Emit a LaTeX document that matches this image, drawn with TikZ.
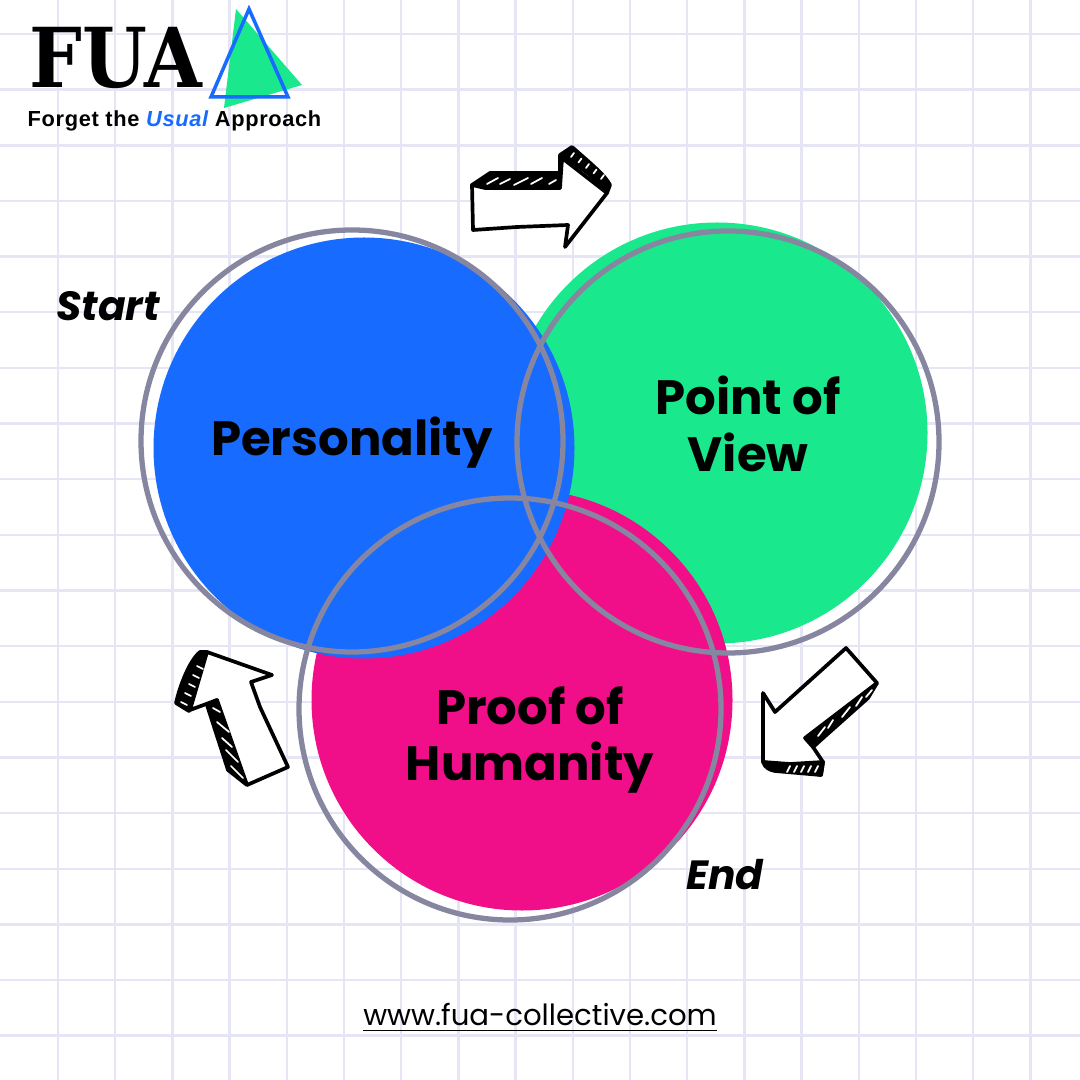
\documentclass[tikz,border=0pt]{standalone}
\usepackage{fontspec}
\setmainfont{Poppins}
\newfontfamily\slabfont[FakeStretch=0.9]{DejaVu Serif}
\newfontfamily\tagfont[LetterSpace=3]{Liberation Sans}
\usetikzlibrary{positioning}
\definecolor{fuablue}{HTML}{186BFF}
\definecolor{fuagreen}{HTML}{1AE88C}
\definecolor{fuapink}{HTML}{F00F88}
\definecolor{ringgray}{HTML}{8686A0}
\definecolor{gridline}{HTML}{E5E5F6}
\tikzset{
  disc/.style={circle, inner sep=0pt, minimum size=421*0.01cm, fill=#1},
  ring/.style={circle, inner sep=0pt, minimum size=422*0.01cm, draw=ringgray, line width=1.5pt},
  title/.style={font=\fontsize{13.7}{16}\selectfont\bfseries, align=center, text=black},
  remark/.style={font=\fontsize{11.6}{14}\selectfont\bfseries\itshape, text=black},
  sketch/.style={draw=black, line width=1.05pt, line join=round, line cap=round, fill=white},
  band/.style={draw=black, line width=1.05pt, line join=round, fill=black},
  hatch/.style={draw=white, line width=0.5pt, line cap=round}
}
\begin{document}
\begin{tikzpicture}[x=0.01cm, y=-0.01cm]
    \useasboundingbox (0,0) rectangle (1080,1080);
    % --- Grid paper ---
    \fill[white] (0,0) rectangle (1080,1080);
    \foreach \k in {0,...,17} {
        \draw[gridline, line width=0.7pt] ({58+57.2*\k},0) -- ({58+57.2*\k},1080);
    }
    \foreach \k in {0,...,18} {
        \draw[gridline, line width=0.7pt] (0,{34+55.65*\k}) -- (1080,{34+55.65*\k});
    }

    % --- Logo ---
    \fill[fuagreen] (236,9) -- (302,85) -- (224,108) -- cycle;
    \draw[fuablue, line width=1pt, line join=miter] (249,9) -- (288,97) -- (211,97) -- cycle;
    \node (logo) [font=\slabfont\fontsize{23.5}{24}\selectfont\bfseries, anchor=center, inner sep=0pt] at (116,58) {FUA};
    \node (tagline) [font=\tagfont\fontsize{6.2}{8}\selectfont\bfseries, anchor=west, inner sep=0pt] at (27,121) {Forget the {\color{fuablue}\itshape Usual} Approach};

    % --- Discs, back to front ---
    \node (greendisc) [disc=fuagreen] at (717,433) {};
    \node (pinkdisc) [disc=fuapink] at (522,700) {};
    \node (bluedisc) [disc=fuablue] at (364,448) {};

    % --- Rings ---
    \node (bluering) [ring] at (352,441) {};
    \node (greenring) [ring] at (728,442) {};
    \node (pinkring) [ring] at (510,709) {};

    % --- Labels ---
    \node (personality) [title] at (352,443) {Personality};
    \node (pointofview) [title] at (748,424) {Point of\\View};
    \node (proof) [title] at (530,740) {Proof of\\Humanity};
    \node (start) [remark] at (108,306) {Start};
    \node (end) [remark] at (725,875) {End};
    \node (website) [font=\fontsize{8.3}{10}\selectfont] at (540,1018) {\underline{www.fua-collective.com}};

    % --- Top arrow ---
    \draw[sketch] (472,185) -- (473,230) -- (517,227) -- (568,225) -- (565,247) -- (607,193) -- (562,158) -- (560,188) -- cycle;
    \draw[band] (472,185) -- (490,173) -- (560,173) -- (560,188) -- (485,188) -- cycle;
    \draw[band] (560,173) -- (560,155) -- (572,147) .. controls (590,163) and (605,175) .. (610,185) -- (607,193) .. controls (595,178) and (580,165) .. (562,158) -- cycle;
    \foreach \a/\b/\c/\d in {487/184/498/178, 500/184/510/179, 514/185/528/178, 531/184/542/178, 549/184/556/180} {
        \draw[hatch] (\a,\b) -- (\c,\d);
    }
    \foreach \p in {0,...,4} {
        \draw[hatch] ({571+7.5*\p},{157+5.5*\p}) -- ({574+7.5*\p},{153+5.5*\p});
    }

    % --- Right arrow ---
    \draw[sketch] (846,648) -- (877,683) -- (813,747) -- (823,762) -- (821,775) -- (763,762) -- (763,693) -- (775,712) -- cycle;
    \draw[band] (805,738) -- (877,683) -- (868,698) -- (813,747) -- cycle;
    \draw[band] (763,762) .. controls (765,768) and (770,770) .. (775,771) -- (821,775) -- (823,762) -- (790,764) -- cycle;
    \foreach \a/\b/\c/\d in {818/736/825/727, 828/728/833/720, 842/717/850/707, 856/706/862/697, 866/697/872/690} {
        \draw[hatch] (\a,\b) -- (\c,\d);
    }
    \foreach \p in {0,...,4} {
        \draw[hatch] ({787+7*\p},772) -- ({790+7*\p},766);
    }

    % --- Left arrow ---
    \draw[sketch] (207,652) -- (272,675) -- (251,682) -- (260,707) -- (288,767) -- (247,785) -- (210,705) -- (217,700) -- (190,710) -- cycle;
    \draw[band] (207,652) -- (200,652) .. controls (190,660) and (180,685) .. (176,703) -- (189,711) .. controls (192,690) and (198,668) .. (207,652) -- cycle;
    \draw[band] (207,705) -- (217,700) -- (247,785) -- (228,770) -- cycle;
    \foreach \p in {0,...,4} {
        \draw[hatch] ({181+4*\p},{702-9*\p}) -- ({187+4*\p},{705-9*\p});
    }
    \foreach \a/\b/\c/\d in {213/708/220/712, 217/722/229/732, 222/738/232/747, 226/750/238/762, 231/766/243/778} {
        \draw[hatch] (\a,\b) -- (\c,\d);
    }
\end{tikzpicture}
\end{document}
